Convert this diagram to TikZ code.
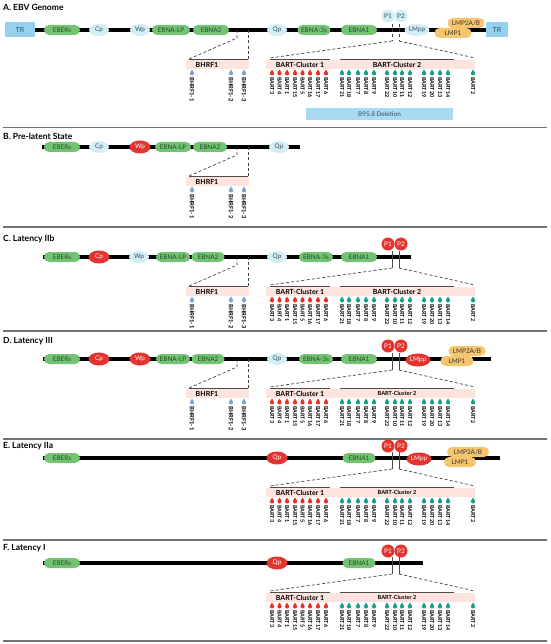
\documentclass[tikz,border=0pt]{standalone}
\usepackage{fontspec}
\setmainfont{Lato}
\usetikzlibrary{shapes.geometric,positioning}

\definecolor{genegreen}{HTML}{74C274}
\definecolor{genetext}{HTML}{1A4F1F}
\definecolor{promblue}{HTML}{D4EEF6}
\definecolor{promtext}{HTML}{34505B}
\definecolor{activered}{HTML}{E3342F}
\definecolor{lmporange}{HTML}{F7C56E}
\definecolor{trblue}{HTML}{93D1EE}
\definecolor{bandpink}{HTML}{FDE4DF}
\definecolor{bhrfblue}{HTML}{7FA2D6}
\definecolor{bartred}{HTML}{E8302A}
\definecolor{bartteal}{HTML}{13A08B}
\definecolor{delblue}{HTML}{A9DAF3}

\begin{document}
\begin{tikzpicture}[x=1pt, y=1pt,
  every node/.style={inner sep=0pt, font=\fontsize{6.4}{7}\selectfont},
  gene/.style={rectangle, rounded corners=5pt, fill=genegreen, text=genetext, minimum width=36, minimum height=10},
  prom/.style={ellipse, fill=promblue, text=promtext, minimum width=20, minimum height=12},
  active/.style={ellipse, fill=activered, text=white, minimum width=21, minimum height=13},
  lmp/.style={rectangle, rounded corners=5pt, fill=lmporange, text=black!80, minimum width=37, minimum height=10},
  trbox/.style={rectangle, fill=trblue, text=promtext, minimum width=30, minimum height=15, font=\fontsize{7}{8}\selectfont},
  title/.style={anchor=west, font=\bfseries\fontsize{8.5}{10}\selectfont},
  genome/.style={line width=3.5pt},
  sep/.style={black!55, line width=1.2pt},
  zoomline/.style={dashed, dash pattern=on 3pt off 2.2pt, line width=0.7pt, black!75},
  tickline/.style={line width=0.6pt, black!70},
  band/.style={fill=bandpink},
  clusterline/.style={black!70, line width=0.8pt},
  mirlabel/.style={rotate=-90, anchor=west, font=\bfseries\fontsize{5.4}{6}\selectfont, text=black},
  drop/.pic={\fill (0,3.5) .. controls (0.6,2.2) and (2.1,0.8) .. (2.1,-0.4)
    arc[start angle=0, end angle=-180, radius=2.1] .. controls (-2.1,0.8) and (-0.6,2.2) .. cycle;}]
  \useasboundingbox (0,0) rectangle (550,-644);

  % Separators
  \foreach \y in {127.5, 227, 331, 439, 540, 641} {
    \draw[sep] (3,-\y) -- (547,-\y);
  }

  % A. EBV genome
  \node[title] (ta) at (3,-7) {A. EBV Genome};
  \node[trbox] (a-trl) at (20,-30) {TR};
  \node[trbox, minimum width=22] (a-trr) at (497,-30) {TR};
  \draw[genome] (a-trl) -- (a-trr);
  \node[gene] (a-ebers) at (62,-30) {EBERs};
  \node[prom] (a-cp) at (99,-30) {Cp};
  \node[prom] (a-wp) at (140,-30) {Wp};
  \node[gene, minimum width=38] (a-ebnalp) at (171,-30) {EBNA-LP};
  \node[gene] (a-ebna2) at (211,-30) {EBNA2};
  \node[prom] (a-qp) at (277,-30) {Qp};
  \node[gene, minimum width=33] (a-ebna3s) at (314,-30) {EBNA-3s};
  \node[gene] (a-ebna1) at (359,-30) {EBNA1};
  \node[prom, circle, minimum size=13] (a-p1) at (388,-16) {P1};
  \node[prom, circle, minimum size=13] (a-p2) at (401,-16) {P2};
  \node[prom, minimum width=25] (a-lmpp) at (417,-30) {LMpp};
  \node[lmp] (a-lmp2) at (466,-23) {LMP2A/B};
  \node[lmp] (a-lmp1) at (453,-33) {LMP1};
  \node[fill=delblue, minimum width=147, minimum height=12, text=promtext] (a-del) at (379.5,-114) {B95.8 Deletion};

  % B. Pre-latent state
  \node[title] (tb) at (3,-136) {B. Pre-latent State};
  \coordinate (b-start) at (42,-147);
  \coordinate (b-end) at (300,-147);
  \draw[genome] (b-start) -- (b-end);
  \node[gene] (b-ebers) at (62,-147) {EBERs};
  \node[prom] (b-cp) at (99,-147) {Cp};
  \node[active] (b-wp) at (140,-147) {Wp};
  \node[gene, minimum width=36] (b-ebnalp) at (173,-147) {EBNA-LP};
  \node[gene, minimum width=34] (b-ebna2) at (210,-147) {EBNA2};
  \node[prom] (b-qp) at (279,-147) {Qp};

  % C. Latency IIb
  \node[title] (tc) at (3,-239) {C. Latency IIb};
  \coordinate (c-start) at (43,-257);
  \coordinate (c-end) at (411,-257);
  \draw[genome] (c-start) -- (c-end);
  \node[gene] (c-ebers) at (62,-257) {EBERs};
  \node[active] (c-cp) at (99,-257) {Cp};
  \node[prom] (c-wp) at (139,-257) {Wp};
  \node[gene, minimum width=34] (c-ebnalp) at (173,-257) {EBNA-LP};
  \node[gene, minimum width=33] (c-ebna2) at (208,-257) {EBNA2};
  \node[prom] (c-qp) at (277,-257) {Qp};
  \node[gene, minimum width=34] (c-ebna3s) at (316,-257) {EBNA-3s};
  \node[gene] (c-ebna1) at (359,-257) {EBNA1};
  \node[active, circle, minimum size=13] (c-p1) at (388,-244) {P1};
  \node[active, circle, minimum size=13] (c-p2) at (401,-244) {P2};

  % D. Latency III
  \node[title] (td) at (3,-341) {D. Latency III};
  \coordinate (d-start) at (43,-359);
  \coordinate (d-end) at (491,-359);
  \draw[genome] (d-start) -- (d-end);
  \node[gene] (d-ebers) at (62,-359) {EBERs};
  \node[active] (d-cp) at (99,-359) {Cp};
  \node[active] (d-wp) at (140,-359) {Wp};
  \node[gene, minimum width=34] (d-ebnalp) at (173,-359) {EBNA-LP};
  \node[gene, minimum width=33] (d-ebna2) at (208,-359) {EBNA2};
  \node[prom] (d-qp) at (277,-359) {Qp};
  \node[gene, minimum width=34] (d-ebna3s) at (316,-359) {EBNA-3s};
  \node[gene] (d-ebna1) at (359,-359) {EBNA1};
  \node[active, circle, minimum size=13] (d-p1) at (388,-346) {P1};
  \node[active, circle, minimum size=13] (d-p2) at (401,-346) {P2};
  \node[active, minimum width=25] (d-lmpp) at (418,-360) {LMpp};
  \node[lmp] (d-lmp2) at (467,-351) {LMP2A/B};
  \node[lmp, minimum width=33] (d-lmp1) at (457,-361) {LMP1};

  % E. Latency IIa
  \node[title] (te) at (3,-446) {E. Latency IIa};
  \coordinate (e-start) at (43,-458);
  \coordinate (e-end) at (500,-458);
  \draw[genome] (e-start) -- (e-end);
  \node[gene] (e-ebers) at (62,-458) {EBERs};
  \node[active] (e-qp) at (277,-458) {Qp};
  \node[gene, minimum width=33] (e-ebna1) at (359,-458) {EBNA1};
  \node[active, circle, minimum size=13] (e-p1) at (388,-446) {P1};
  \node[active, circle, minimum size=13] (e-p2) at (401,-446) {P2};
  \node[active, minimum width=25] (e-lmpp) at (419,-459) {LMpp};
  \node[lmp, minimum width=42] (e-lmp2) at (468,-452) {LMP2A/B};
  \node[lmp, minimum width=32] (e-lmp1) at (460,-462) {LMP1};

  % F. Latency I
  \node[title] (tf) at (3,-548) {F. Latency I};
  \coordinate (f-start) at (43,-563);
  \coordinate (f-end) at (423,-563);
  \draw[genome] (f-start) -- (f-end);
  \node[gene] (f-ebers) at (62,-563) {EBERs};
  \node[active] (f-qp) at (277,-563) {Qp};
  \node[gene, minimum width=33] (f-ebna1) at (359,-563) {EBNA1};
  \node[active, circle, minimum size=13] (f-p1) at (388,-551) {P1};
  \node[active, circle, minimum size=13] (f-p2) at (401,-551) {P2};

  % BHRF1 cluster
  \foreach \s/\L in {a/30, b/147, c/257, d/359} {
    \coordinate (\s-h1) at (237,-\L);
    \coordinate (\s-h2) at (248,-\L);
    \coordinate (\s-hk) at (237,-\L-8);
    \coordinate (\s-hl) at (189,-\L-29);
    \coordinate (\s-hr) at (248,-\L-29);
    \draw[zoomline] (\s-h1) -- (\s-hk) -- (\s-hl);
    \draw[zoomline] (\s-h2) -- (\s-hr);
    \node[band, minimum width=63, minimum height=9] (\s-bhrf) at (217.5,-\L-34.5) {};
    \draw[clusterline] (\s-hl) -- (\s-hr);
    \node[font=\bfseries\fontsize{7}{8}\selectfont] (\s-bhrft) at (207,-\L-34.5) {BHRF1};
    \foreach \x/\n in {192/1, 231/2, 244/3} {
      \pic[bhrfblue] at (\x,-\L-43) {drop};
      \node[mirlabel, font=\bfseries\fontsize{5.8}{6}\selectfont] (\s-bhrf\n) at (\x,-\L-47) {BHRF1-\n};
    }
  }

  % BART clusters
  \foreach \s/\L/\cf/\ts in {a/30/7/zoomline, c/257/7/tickline, d/359/5.6/tickline, e/458/5.6/tickline, f/563/5.6/tickline} {
    \coordinate (\s-t1) at (392,-\L+6);
    \coordinate (\s-t2) at (399,-\L+6);
    \coordinate (\s-k1) at (392,-\L-11);
    \coordinate (\s-k2) at (399,-\L-11);
    \coordinate (\s-bl) at (270,-\L-28);
    \coordinate (\s-br) at (475,-\L-28);
    \draw[\ts] (\s-t1) -- (\s-k1);
    \draw[\ts] (\s-t2) -- (\s-k2);
    \draw[zoomline] (\s-k1) -- (\s-bl);
    \draw[zoomline] (\s-k2) -- (\s-br);
    \node[band, minimum width=209, minimum height=9] (\s-bart) at (370.5,-\L-34.5) {};
    \coordinate (\s-c1a) at (270,-\L-29.5);
    \coordinate (\s-c1b) at (330,-\L-29.5);
    \coordinate (\s-c2a) at (340,-\L-29.5);
    \coordinate (\s-c2b) at (454,-\L-29.5);
    \draw[clusterline] (\s-c1a) -- (\s-c1b);
    \draw[clusterline] (\s-c2a) -- (\s-c2b);
    \node[font=\bfseries\fontsize{7}{8}\selectfont] (\s-cl1) at (300,-\L-34.5) {BART-Cluster 1};
    \node[font=\bfseries\fontsize{\cf}{8}\selectfont] (\s-cl2) at (397,-\L-34.5) {BART-Cluster 2};
    \foreach \x/\n in {272/3, 279.5/4, 287/1, 295/15, 302.5/5, 310/16, 318/17, 326/6} {
      \pic[bartred] at (\x,-\L-43) {drop};
      \node[mirlabel] (\s-bart\n) at (\x,-\L-47) {BART\n};
    }
    \foreach \x/\n in {342/21, 349/18, 358/7, 366/8, 374/9, 387/22, 395/10, 402/11, 410/12, 424/19, 432/20, 440/13, 448/14, 473/2} {
      \pic[bartteal] at (\x,-\L-43) {drop};
      \node[mirlabel] (\s-bart\n) at (\x,-\L-47) {BART\n};
    }
  }
\end{tikzpicture}
\end{document}
